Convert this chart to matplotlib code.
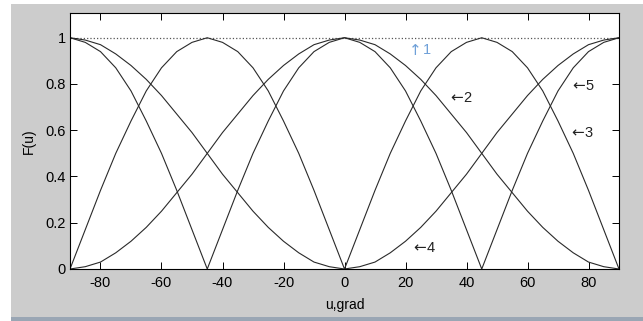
import matplotlib
matplotlib.use('Agg')
import matplotlib.pyplot as plt
from matplotlib.patches import Rectangle

# angle grid, degrees
u = [-90, -85, -80, -75, -70, -65, -60, -55, -50, -45, -40, -35, -30, -25, -20, -15, -10, -5,
     0, 5, 10, 15, 20, 25, 30, 35, 40, 45, 50, 55, 60, 65, 70, 75, 80, 85, 90]

# curve 1 - flat line at 1
f1 = [1.0] * 37
# cos^2 like curve (peak at 0)
f_cos2 = [0.00, 0.01, 0.03, 0.07, 0.12, 0.18, 0.25, 0.33, 0.41, 0.50, 0.59, 0.67, 0.75, 0.82, 0.88, 0.93, 0.97, 0.99,
          1.00, 0.99, 0.97, 0.93, 0.88, 0.82, 0.75, 0.67, 0.59, 0.50, 0.41, 0.33, 0.25, 0.18, 0.12, 0.07, 0.03, 0.01, 0.00]
# sin^2 like curve (zero at 0)
f_sin2 = [1.00, 0.99, 0.97, 0.93, 0.88, 0.82, 0.75, 0.67, 0.59, 0.50, 0.41, 0.33, 0.25, 0.18, 0.12, 0.07, 0.03, 0.01,
          0.00, 0.01, 0.03, 0.07, 0.12, 0.18, 0.25, 0.33, 0.41, 0.50, 0.59, 0.67, 0.75, 0.82, 0.88, 0.93, 0.97, 0.99, 1.00]
# |cos 2u| like curve
f_c2u = [1.00, 0.98, 0.94, 0.87, 0.77, 0.64, 0.50, 0.34, 0.17, 0.00, 0.17, 0.34, 0.50, 0.64, 0.77, 0.87, 0.94, 0.98,
         1.00, 0.98, 0.94, 0.87, 0.77, 0.64, 0.50, 0.34, 0.17, 0.00, 0.17, 0.34, 0.50, 0.64, 0.77, 0.87, 0.94, 0.98, 1.00]
# |sin 2u| like curve
f_s2u = [0.00, 0.17, 0.34, 0.50, 0.64, 0.77, 0.87, 0.94, 0.98, 1.00, 0.98, 0.94, 0.87, 0.77, 0.64, 0.50, 0.34, 0.17,
         0.00, 0.17, 0.34, 0.50, 0.64, 0.77, 0.87, 0.94, 0.98, 1.00, 0.98, 0.94, 0.87, 0.77, 0.64, 0.50, 0.34, 0.17, 0.00]

xticks = [-80, -60, -40, -20, 0, 20, 40, 60, 80]
yticks = [0, 0.2, 0.4, 0.6, 0.8, 1]
ytick_labels = ['0', '0.2', '0.4', '0.6', '0.8', '1']

# curve labels: arrow, number, x, y, colour
labels = [('\u2191', '1', 21.1, 0.947, '#6fa0d8'),
          ('\u2190', '2', 34.6, 0.739, '#222222'),
          ('\u2190', '5', 74.7, 0.791, '#222222'),
          ('\u2190', '3', 74.2, 0.588, '#222222'),
          ('\u2190', '4', 22.4, 0.091, '#222222')]

fam = ['Liberation Sans Narrow', 'Liberation Sans', 'DejaVu Sans']
plt.rcParams['font.family'] = fam
plt.rcParams['axes.unicode_minus'] = False

fig = plt.figure(figsize=(6.43, 3.21), dpi=100, facecolor='white')
W, H = 643.0, 321.0
# grey matlab window background
fig.patches.append(Rectangle((11 / W, 4 / H), 1 - 11 / W, (317 - 4) / H,
                             transform=fig.transFigure, facecolor='#cccccc',
                             edgecolor='none', zorder=-2))
fig.patches.append(Rectangle((11 / W, 0), 1 - 11 / W, 4 / H,
                             transform=fig.transFigure, facecolor='#9aa6b4',
                             edgecolor='none', zorder=-2))

ax = fig.add_axes([70 / W, 52 / H, 549 / W, 256 / H])
ax.set_facecolor('white')

lc = '#2a2a2a'
ax.plot(u, f1, linestyle=':', color='#555555', linewidth=0.9)
ax.plot(u, f_cos2, color=lc, linewidth=0.8)
ax.plot(u, f_sin2, color=lc, linewidth=0.8)
ax.plot(u, f_c2u, color=lc, linewidth=0.8)
ax.plot(u, f_s2u, color=lc, linewidth=0.8)

for arr, num, x, y, c in labels:
    ax.text(x, y, arr, color=c, fontsize=11, ha='left', va='center',
            family=['DejaVu Sans'])
    ax.annotate(num, (x, y), xytext=(9.8, 0), textcoords='offset points',
                color=c, fontsize=10.5, ha='left', va='center', family=fam)

ax.set_xlim(-90, 90)
ax.set_ylim(0, 1.107)
ax.set_xticks(xticks)
ax.set_yticks(yticks)
ax.set_yticklabels(ytick_labels)
ax.tick_params(direction='in', length=5, width=0.7, top=True, right=True,
               labelsize=10.5, colors='black')
ax.tick_params(axis='x', pad=5)
ax.tick_params(axis='y', pad=3)
for s in ax.spines.values():
    s.set_linewidth(0.8)
    s.set_color('black')

ax.set_xlabel('u,grad', fontsize=10, labelpad=6)
ax.set_ylabel('F(u)', fontsize=10, labelpad=7)

fig.savefig('out.png', dpi=100, facecolor=fig.get_facecolor())
